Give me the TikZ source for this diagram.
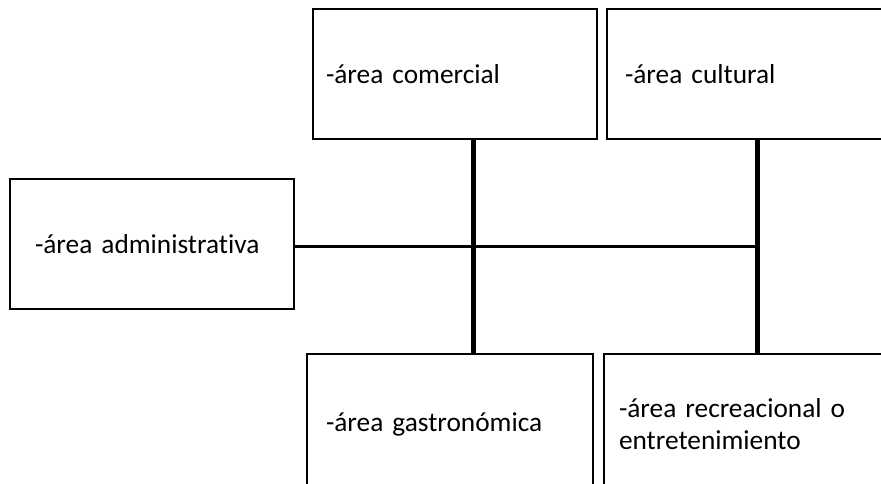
\documentclass[tikz,border=0pt]{standalone}
\usepackage{fontspec}
\setmainfont[Ligatures={NoCommon},WordSpace=0.75]{Carlito}
\usetikzlibrary{positioning}

\begin{document}
\begin{tikzpicture}[x=0.75pt,y=-0.75pt,
  area/.style={rectangle,draw=black,line width=1.5pt,fill=white,align=left,
               minimum width=213pt,minimum height=97.5pt,
               font=\fontsize{20.5}{23.5}\selectfont},
  trunk/.style={line width=3.75pt},
  branch/.style={line width=2.25pt}
]
  \clip (0,0) rectangle (881,483);
  \fill[white] (0,0) rectangle (881,483);
  \node[area,text width=193.5pt,inner xsep=9.75pt] (comercial) at (455,74) {-área comercial};
  \node[area,minimum width=214.5pt,text width=187.5pt,inner xsep=13.5pt] (cultural) at (750,74) {-área cultural};
  \node[area,text width=175.5pt,inner xsep=18.75pt] (admin) at (152,244) {-área administrativa};
  \node[area,minimum width=214.5pt,minimum height=105pt,text width=186pt,inner xsep=14.25pt]
      (gastro) at (450,424) {-área gastronómica};
  \node[area,minimum width=214.5pt,minimum height=105pt,text width=192pt,inner xsep=11.25pt]
      (recreo) at (747,424) {-área recreacional o\\entretenimiento};

  \coordinate (hubL) at (473,246);
  \coordinate (hubR) at (757,246);

  \draw[trunk](comercial.south -| hubL)--(gastro.north -| hubL);
  \draw[trunk](cultural.south -| hubR)--(recreo.north -| hubR);
  \draw[branch](admin.east |- hubL)--(hubR);
\end{tikzpicture}
\end{document}
